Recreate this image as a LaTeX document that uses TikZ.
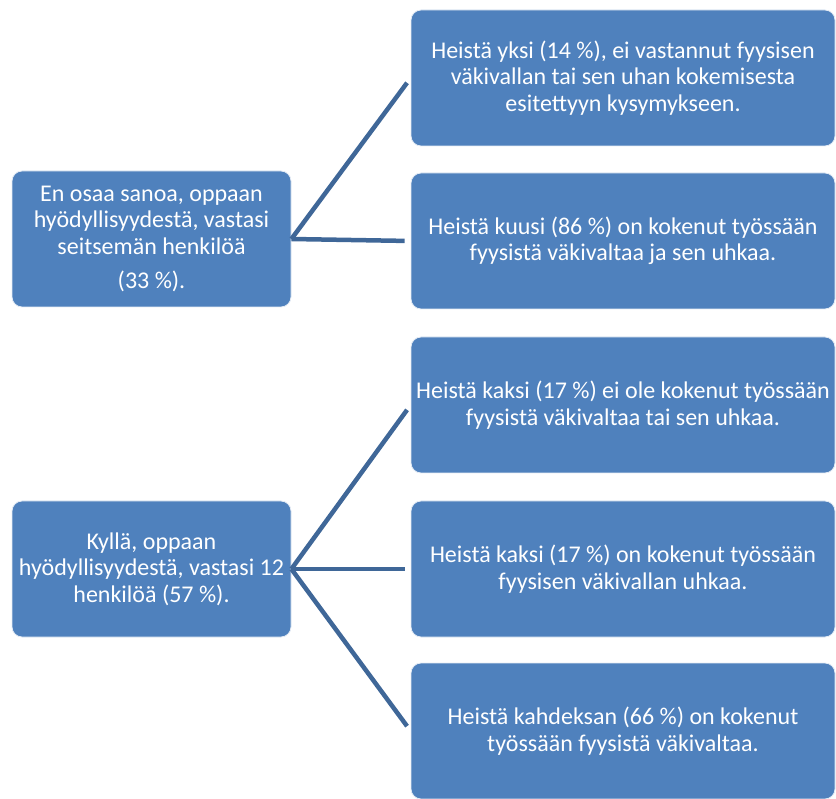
\documentclass[tikz,border=0pt]{standalone}
\usepackage{fontspec}
\setmainfont{Carlito}
\definecolor{boxblue}{HTML}{4F81BD}
\definecolor{lineblue}{HTML}{3F6798}
\begin{document}
\begin{tikzpicture}[x=1pt,y=-1pt,
  box/.style={draw=white!85!boxblue, line width=0.8pt, fill=boxblue, rounded corners=10pt,
    text=white, align=center, inner sep=0pt,
    font=\fontsize{24}{26.5}\selectfont},
  lbox/.style={box, minimum width=279pt, minimum height=136pt},
  rbox/.style={box, minimum width=424pt, minimum height=136pt},
  conn/.style={draw=lineblue, line width=4.5pt, shorten >=6pt}]
\useasboundingbox (0,0) rectangle (836,799);
\node[lbox] (l1) at (151.5,239) {En osaa sanoa, oppaan\\hyödyllisyydestä, vastasi\\seitsemän henkilöä\\[8pt](33 \%).};
\node[lbox] (l2) at (151.5,569) {Kyllä, oppaan\\hyödyllisyydestä, vastasi 12\\henkilöä (57 \%).};
\node[rbox] (r1) at (623,78) {Heistä yksi (14 \%), ei vastannut fyysisen\\väkivallan tai sen uhan kokemisesta\\esitettyyn kysymykseen.};
\node[rbox] (r2) at (623,241) {Heistä kuusi (86 \%) on kokenut työssään\\fyysistä väkivaltaa ja sen uhkaa.};
\node[rbox] (r3) at (623,405) {Heistä kaksi (17 \%) ei ole kokenut työssään\\fyysistä väkivaltaa tai sen uhkaa.};
\node[rbox] (r4) at (623,569) {Heistä kaksi (17 \%) on kokenut työssään\\fyysisen väkivallan uhkaa.};
\node[rbox] (r5) at (623,731) {Heistä kahdeksan (66 \%) on kokenut\\työssään fyysistä väkivaltaa.};
\draw[conn] (l1.east) -- (r1.west);
\draw[conn] (l1.east) -- (r2.west);
\draw[conn] (l2.east) -- (r3.west);
\draw[conn] (l2.east) -- (r4.west);
\draw[conn] (l2.east) -- (r5.west);
\end{tikzpicture}
\end{document}
